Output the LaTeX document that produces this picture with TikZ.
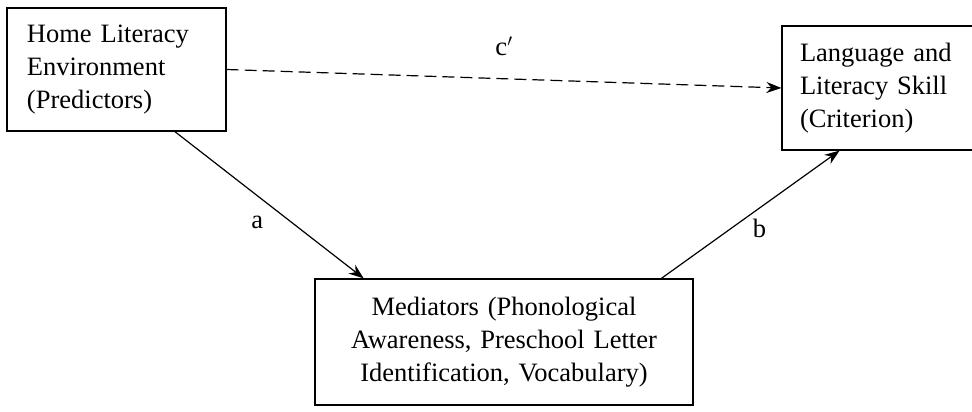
\documentclass[tikz,border=0pt]{standalone}
\usepackage{fontspec}
\setmainfont{Liberation Serif}
\usetikzlibrary{arrows.meta,calc}
\begin{document}
\begin{tikzpicture}[x=1pt,y=-1pt,line width=1.2pt,>={Stealth[length=15pt,width=11pt]}]

      \useasboundingbox (0,0) rectangle (972,412);

      \begin{scope}[every node/.style={draw,rectangle,inner sep=0pt,font=\fontsize{26.5}{33}\selectfont}]
        \node[minimum width=219pt,minimum height=123pt,text width=179pt,align=left] (home) at (116.5,69.5) {Home Literacy\\Environment\\(Predictors)};
        \node[minimum width=203pt,minimum height=124pt,text width=167pt,align=left] (skill) at (883.5,88) {Language and\\Literacy Skill\\(Criterion)};
        \node[minimum width=378pt,minimum height=126pt,text width=340pt,align=center] (medi) at (504,342) {Mediators (Phonological\\Awareness, Preschool Letter\\Identification, Vocabulary)};
      \end{scope}

      \begin{scope}[every node/.style={inner sep=0pt,font=\fontsize{26.5}{33}\selectfont}]

        \begin{scope}[every edge/.style={draw,->}]
          \path (home.east) edge[dash pattern=on 12pt off 6pt] node[midway,yshift=32pt] {c$'$} (skill.west);
          \path ($(home.south)!0.53!(home.south east)$) edge node[midway,xshift=-12pt,yshift=-17pt] {a} ($(medi.north west)!0.26!(medi.north)$);
          \path ($(medi.north)!0.83!(medi.north east)$) edge node[midway,xshift=9pt,yshift=-14pt] {b} ($(skill.south west)!0.57!(skill.south)$);
        \end{scope}
      \end{scope}

    \end{tikzpicture}
\end{document}
